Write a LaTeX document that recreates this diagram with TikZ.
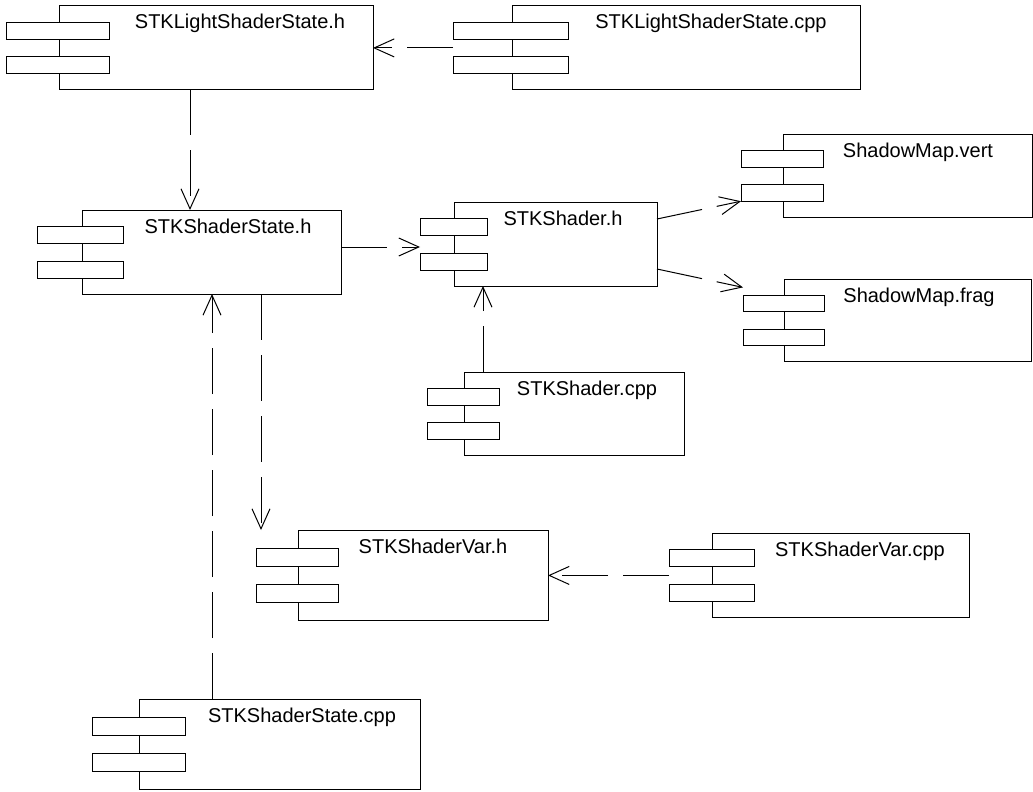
\documentclass[tikz,border=0pt]{standalone}
\usepackage{fontspec}
\setmainfont{Liberation Sans}
\usetikzlibrary{arrows.meta,calc}

% UML component: body, two port bars, and a name
% #1 name, #2 left, #3 top, #4 right, #5 bottom, #6 port left, #7 port right, #8 label x, #9 label
\newcommand\umlcomp[9]{%
  \node[compbody, minimum width={(#4-#2)*1pt}, minimum height={(#5-#3)*1pt}] (#1) at (#2,#3) {};
  \node[compport, minimum width={(#7-#6)*1pt}, minimum height={0.2*(#5-#3)*1pt}] (#1-a) at (#6,{#3+0.2*(#5-#3)}) {};
  \node[compport, minimum width={(#7-#6)*1pt}, minimum height={0.2*(#5-#3)*1pt}] (#1-b) at (#6,{#3+0.61*(#5-#3)}) {};
  \node[complabel] (#1-t) at (#8,{#3+23}) {#9};
}

\tikzset{
  compbody/.style={draw=black, line width=1pt, anchor=north west, inner sep=0pt, outer sep=0pt},
  compport/.style={draw=black, fill=white, line width=1pt, anchor=north west, inner sep=0pt, outer sep=0pt},
  complabel/.style={anchor=base, inner sep=0pt, font=\fontsize{20}{24}\selectfont},
  dep/.style={line width=1pt, dash pattern=on 46pt off 15pt,
    -{Straight Barb[length=20pt,width=18pt,line width=1pt]}},
}

\begin{document}
\begin{tikzpicture}[x=1pt,y=-1pt]
\useasboundingbox (0,0) rectangle (1033,792);

\umlcomp{lssh}{59}{6}{373}{89}{6}{109}{240}{STKLightShaderState.h}
\umlcomp{lssc}{512}{6}{860}{89}{453}{568}{711}{STKLightShaderState.cpp}
\umlcomp{ssh}{82}{210}{341}{294}{37}{123}{228}{STKShaderState.h}
\umlcomp{sh}{454}{202}{657}{286}{420}{487}{563}{STKShader.h}
\umlcomp{shc}{464}{372}{684}{455}{427}{499}{587}{STKShader.cpp}
\umlcomp{vert}{783}{134}{1032}{217}{741}{823}{918}{ShadowMap.vert}
\umlcomp{frag}{784}{279}{1031}{361}{743}{824}{919}{ShadowMap.frag}
\umlcomp{shv}{298}{530}{548}{620}{256}{338}{433}{STKShaderVar.h}
\umlcomp{svc}{712}{533}{969}{617}{669}{754}{860}{STKShaderVar.cpp}
\umlcomp{ssc}{139}{699}{420}{789}{92}{185}{302}{STKShaderState.cpp}

% port-side start points of the .cpp dependencies
\coordinate (lsscport) at ($(lssc-a.south west)!0.5!(lssc-b.north west)$);
\coordinate (svcport) at ($(svc-a.south west)!0.5!(svc-b.north west)$);

% dependencies
\draw[dep] (lsscport) -- (lsscport -| lssh.east);
\draw[dep] ([xshift=-26pt]lssh.south) -- ([xshift=-26pt]lssh.south |- ssh.north);
\draw[dep] ([yshift=5pt]ssh.east) -- ([yshift=5pt]ssh.east -| sh-a.west);
\draw[dep] ([yshift=-17pt]sh.north east) -- (vert-b.south west);
\draw[dep] ([yshift=17pt]sh.south east) -- ([yshift=8pt]frag-a.north west);
\draw[dep] ([xshift=19pt]shc.north west) -- ([xshift=19pt]shc.north west |- sh.south);
\draw[dep] ([xshift=179pt]ssh.south west) -- ([xshift=179pt]ssh.south west |- shv.north);
\draw[dep] ([xshift=73pt]ssc.north west) -- ([xshift=73pt]ssc.north west |- ssh.south);
\draw[dep] (svcport) -- (svcport -| shv.east);
\end{tikzpicture}
\end{document}
